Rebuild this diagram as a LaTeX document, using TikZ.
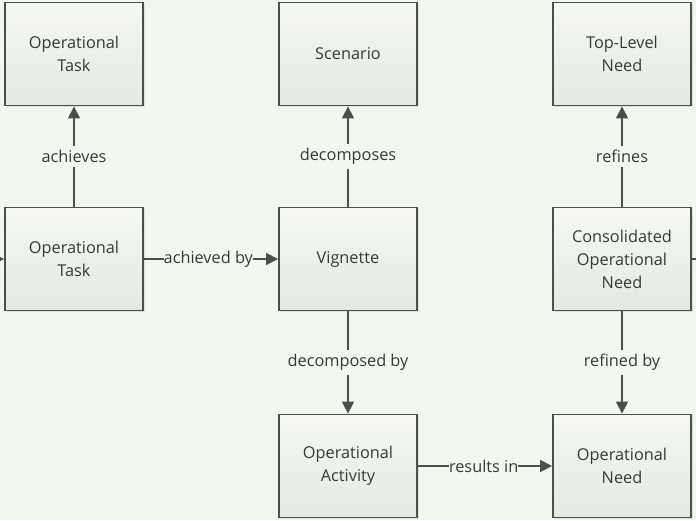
\documentclass[tikz,border=0pt]{standalone}
\usepackage{fontspec}
\setmainfont{Open Sans}
\usetikzlibrary{arrows.meta,shadows}
\definecolor{canvas}{HTML}{F3F8EF}
\definecolor{boxtop}{HTML}{F6F8F4}
\definecolor{boxbot}{HTML}{E3E9E0}
\definecolor{edge}{HTML}{4A514B}
\definecolor{ink}{HTML}{363A37}
\tikzset{
  x=1pt, y=-1pt,
  entity/.style={draw=edge, line width=1.8pt, top color=boxtop, bottom color=boxbot,
    minimum width=138pt, minimum height=103pt, inner sep=2pt, align=center,
    text=ink, font=\fontsize{16.3}{23}\selectfont,
    drop shadow={shadow xshift=1.5pt, shadow yshift=-1.5pt, opacity=0.18}},
  rel/.style={draw=edge, line width=1.5pt, -{Triangle[length=12pt,width=12pt]}},
  tag/.style={fill=canvas, text=ink, inner xsep=1pt, inner ysep=4pt, font=\fontsize{16.3}{18}\selectfont},
  htag/.style={fill=canvas, text=ink, inner xsep=0pt, inner ysep=1pt, font=\fontsize{16.3}{18}\selectfont},
}
\begin{document}
\begin{tikzpicture}
\fill[canvas] (0,0) rectangle (696,520);
\useasboundingbox (0,0) rectangle (696,520);

% boxes
\node[entity] (task1) at (74,54) {Operational\\Task};
\node[entity] (scen)  at (348,54) {Scenario};
\node[entity] (tln)   at (622,54) {Top-Level\\Need};
\node[entity] (task2) at (74,259) {Operational\\Task};
\node[entity] (vign)  at (348,259) {Vignette};
\node[entity] (cons)  at (622,259) {Consolidated\\Operational\\Need};
\node[entity] (act)   at (348,466) {Operational\\Activity};
\node[entity] (need)  at (622,466) {Operational\\Need};

% loose ends at the page border
\coordinate (inL)  at (0,259);
\coordinate (outR) at (696,259);

% relations
\draw[rel] (task2) -- node[tag] {achieves} (task1);
\draw[rel] (vign) -- node[tag] {decomposes} (scen);
\draw[rel] (cons) -- node[tag] {refines} (tln);
\draw[rel] (task2) -- node[htag, pos=0.48] {achieved by} (vign);
\draw[rel] (vign) -- node[tag] {decomposed by} (act);
\draw[rel] (cons) -- node[tag] {refined by} (need);
\draw[rel] (act) -- node[htag, pos=0.49] {results in} (need);
\draw[rel] (inL) -- (task2);
\draw[draw=edge, line width=1.5pt] (cons) -- (outR);
\end{tikzpicture}
\end{document}
